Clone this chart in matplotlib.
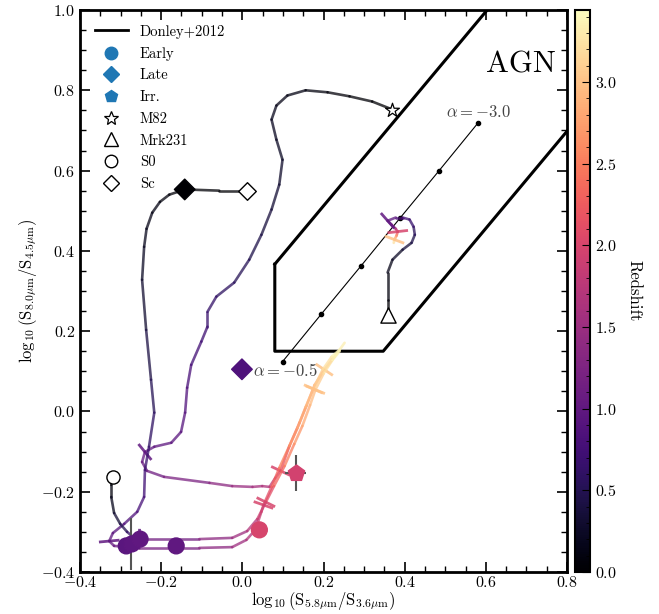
import numpy as np
import matplotlib
matplotlib.use('Agg')
import matplotlib.pyplot as plt
from matplotlib.collections import LineCollection
from matplotlib.lines import Line2D
from matplotlib import cm, colors

plt.rcParams['font.family'] = 'serif'
plt.rcParams['font.serif'] = ['cmr10', 'DejaVu Serif']
plt.rcParams['mathtext.fontset'] = 'cm'
plt.rcParams['axes.formatter.use_mathtext'] = True
plt.rcParams['axes.unicode_minus'] = True

# template tracks (x, y, redshift)
m82_x = [0.370, 0.320, 0.264, 0.210, 0.156, 0.111, 0.084, 0.072, 0.084, 0.099, 0.091, 0.072, 0.047,
         0.017, -0.020, -0.064, -0.086, -0.086, -0.101, -0.126, -0.136, -0.141, -0.151, -0.175,
         -0.217, -0.240, -0.247, -0.235, -0.193, -0.081, -0.025, 0.025, 0.049, 0.067, 0.081,
         0.094, 0.116, 0.141, 0.158, 0.178, 0.202, 0.227, 0.252]
m82_y = [0.752, 0.772, 0.785, 0.795, 0.800, 0.787, 0.762, 0.727, 0.677, 0.627, 0.565, 0.503, 0.440,
         0.378, 0.321, 0.286, 0.248, 0.211, 0.174, 0.116, 0.059, -0.003, -0.051, -0.078,
         -0.088, -0.101, -0.126, -0.148, -0.163, -0.178, -0.186, -0.188, -0.186, -0.188, -0.166,
         -0.148, -0.086, -0.028, 0.014, 0.066, 0.104, 0.136, 0.171]
m82_z = [0.0, 0.025, 0.05, 0.075, 0.10, 0.13, 0.16, 0.19, 0.22, 0.25, 0.30, 0.35, 0.42,
         0.48, 0.55, 0.60, 0.64, 0.68, 0.72, 0.78, 0.84, 0.90, 0.94, 0.96,
         0.98, 1.0, 1.04, 1.09, 1.15, 1.3, 1.42, 1.55, 1.62, 1.7, 1.85,
         2.0, 2.25, 2.5, 2.7, 2.9, 3.0, 3.2, 3.44]

sc_x = [0.012, -0.057, -0.141, -0.180, -0.203, -0.222, -0.236, -0.242, -0.247, -0.237, -0.225,
        -0.217, -0.230, -0.240, -0.242, -0.259, -0.291, -0.319, -0.328, -0.316, -0.254, -0.106,
        -0.025, 0.010, 0.032, 0.047, 0.052, 0.072, 0.091, 0.116, 0.136, 0.156, 0.175, 0.198,
        0.220, 0.240]
sc_y = [0.550, 0.550, 0.553, 0.540, 0.522, 0.495, 0.455, 0.410, 0.328, 0.203, 0.079,
        -0.003, -0.088, -0.146, -0.213, -0.250, -0.280, -0.303, -0.323, -0.335, -0.340, -0.340,
        -0.338, -0.320, -0.295, -0.250, -0.233, -0.188, -0.141, -0.086, -0.041, 0.011, 0.056, 0.104,
        0.136, 0.154]
sc_z = [0.0, 0.02, 0.05, 0.08, 0.105, 0.13, 0.165, 0.2, 0.27, 0.37, 0.48,
        0.56, 0.64, 0.7, 0.76, 0.82, 0.88, 0.95, 1.0, 1.05, 1.12, 1.3,
        1.45, 1.6, 1.75, 1.95, 2.0, 2.2, 2.4, 2.6, 2.75, 2.9, 3.0, 3.15,
        3.3, 3.44]

s0_x = [-0.319, -0.323, -0.323, -0.316, -0.301, -0.284, -0.269, -0.254, -0.106, -0.025, 0.012,
        0.037, 0.058, 0.078, 0.104, 0.128, 0.148, 0.167, 0.180, 0.200, 0.222, 0.240]
s0_y = [-0.163, -0.183, -0.213, -0.253, -0.280, -0.300, -0.313, -0.318, -0.318, -0.315, -0.298,
        -0.268, -0.226, -0.186, -0.136, -0.081, -0.036, 0.016, 0.054, 0.094, 0.128, 0.150]
s0_z = [0.0, 0.05, 0.12, 0.25, 0.4, 0.55, 0.7, 1.0, 1.3, 1.45, 1.6,
        1.8, 2.0, 2.2, 2.4, 2.6, 2.75, 2.9, 3.0, 3.15, 3.3, 3.44]

mrk_x = [0.358, 0.358, 0.358, 0.370, 0.395, 0.417, 0.425, 0.422, 0.412, 0.395, 0.378,
         0.358, 0.368, 0.378, 0.383, 0.380, 0.375, 0.373]
mrk_y = [0.240, 0.278, 0.346, 0.378, 0.403, 0.420, 0.440, 0.460, 0.478, 0.483, 0.483,
         0.475, 0.465, 0.455, 0.448, 0.438, 0.428, 0.420]
mrk_z = [0.0, 0.05, 0.12, 0.2, 0.3, 0.4, 0.5, 0.6, 0.7, 0.8, 0.9,
         1.0, 1.2, 1.5, 2.0, 2.5, 3.0, 3.44]

tick_z = [1.0, 2.0, 3.0]

# observed galaxies
early_x = [-0.286, -0.272, -0.252, -0.163, 0.042]
early_y = [-0.335, -0.330, -0.318, -0.335, -0.295]
early_z = [0.95, 0.98, 1.0, 1.0, 2.0]
late_x = [-0.142, -0.001]
late_y = [0.553, 0.105]
late_z = [0.0, 0.85]
irr_x = [0.131]
irr_y = [-0.153]
irr_z = [1.95]
err_x = [-0.274, 0.131]
err_y = [-0.330, -0.153]
err_xe = [0.031, 0.025]
err_ye = [0.064, 0.045]

# power law
alpha = [-0.5, -1.0, -1.5, -2.0, -2.5, -3.0]
pl_x = [0.099, 0.195, 0.292, 0.388, 0.485, 0.581]
pl_y = [0.124, 0.243, 0.362, 0.481, 0.600, 0.719]

zmax = 3.44
norm = colors.Normalize(vmin=0, vmax=zmax)
cmap = plt.get_cmap('magma')

fig = plt.figure(figsize=(6.59, 6.14), dpi=100)
ax = fig.add_axes([0.1214, 0.0684, 0.739, 0.9153])
cax = fig.add_axes([0.8725, 0.0684, 0.0228, 0.9153])

# Donley+2012 wedge
wx = [0.08, 0.08, (0.15 + 0.27) / 1.21, 0.8]
wy = [1.21 * 0.08 + 0.27, 0.15, 0.15, 1.21 * 0.8 - 0.27]
ax.plot(wx, wy, 'k-', lw=2.2, zorder=2)
ax.plot([0.08, (1.0 - 0.27) / 1.21], [1.21 * 0.08 + 0.27, 1.0], 'k-', lw=2.2, zorder=2)

ax.plot(pl_x, pl_y, 'k-', lw=0.8, marker='o', ms=3, zorder=3)
ax.text(0.027, 0.101, r'$\alpha = -%.1f$' % abs(alpha[0]), fontsize=12, color='#444444',
        ha='left', va='center')
ax.text(pl_x[-1], pl_y[-1] + 0.006, r'$\alpha = -%.1f$' % abs(alpha[-1]), fontsize=12,
        color='#444444', ha='center', va='bottom')
ax.text(0.686, 0.864, 'AGN', fontsize=22, ha='center', va='center')


def draw_track(tx, ty, tz):
    tx = np.array(tx); ty = np.array(ty); tz = np.array(tz)
    pts = np.column_stack([tx, ty]).reshape(-1, 1, 2)
    segs = np.concatenate([pts[:-1], pts[1:]], axis=1)
    lc = LineCollection(segs, cmap=cmap, norm=norm, lw=1.9, alpha=0.75, zorder=4,
                        capstyle='round', joinstyle='round')
    lc.set_array(0.5 * (tz[:-1] + tz[1:]))
    ax.add_collection(lc)
    # short bars across the track at z = 1, 2, 3
    for z in tick_z:
        x0 = np.interp(z, tz, tx); y0 = np.interp(z, tz, ty)
        dx = np.interp(z + 0.05, tz, tx) - np.interp(z - 0.05, tz, tx)
        dy = np.interp(z + 0.05, tz, ty) - np.interp(z - 0.05, tz, ty)
        d = np.hypot(dx, dy)
        px, py = -dy / d * 0.022, dx / d * 0.022
        ax.plot([x0 - px, x0 + px], [y0 - py, y0 + py], color=cmap(norm(z)), lw=2,
                alpha=0.85, zorder=4)


draw_track(m82_x, m82_y, m82_z)
draw_track(sc_x, sc_y, sc_z)
draw_track(s0_x, s0_y, s0_z)
draw_track(mrk_x, mrk_y, mrk_z)

# z=0 template markers
ax.scatter([m82_x[0]], [m82_y[0]], marker='*', s=110, facecolor='white', edgecolor='k', lw=0.9, zorder=6)
ax.scatter([mrk_x[0]], [mrk_y[0]], marker='^', s=120, facecolor='white', edgecolor='k', lw=1, zorder=6)
ax.scatter([s0_x[0]], [s0_y[0]], marker='o', s=90, facecolor='white', edgecolor='k', lw=1, zorder=6)
ax.scatter([sc_x[0]], [sc_y[0]], marker='D', s=80, facecolor='white', edgecolor='k', lw=1, zorder=6)

ax.errorbar(err_x, err_y, xerr=err_xe, yerr=err_ye, fmt='none', ecolor='#555555', elinewidth=1.5,
            capsize=0, zorder=5)
ax.scatter(early_x, early_y, c=early_z, cmap=cmap, norm=norm, marker='o', s=130, zorder=7)
ax.scatter(late_x, late_y, c=late_z, cmap=cmap, norm=norm, marker='D', s=110, zorder=7)
ax.scatter(irr_x, irr_y, c=irr_z, cmap=cmap, norm=norm, marker='p', s=150, zorder=7)

ax.set_xlim(-0.4, 0.8)
ax.set_ylim(-0.4, 1.0)
ax.set_xticks(np.arange(-0.4, 0.81, 0.2))
ax.set_yticks(np.arange(-0.4, 1.01, 0.2))
ax.set_xticks(np.arange(-0.4, 0.81, 0.05), minor=True)
ax.set_yticks(np.arange(-0.4, 1.01, 0.05), minor=True)
ax.tick_params(which='both', direction='in', top=True, right=True, labelsize=11.5)
ax.tick_params(which='major', length=7, width=1.2)
ax.tick_params(which='minor', length=4, width=1)
ax.tick_params(axis='x', pad=2)
for s in ax.spines.values():
    s.set_linewidth(2)
ax.set_xlabel(r'$\log_{10}\left(\mathrm{S}_{5.8\mu\mathrm{m}}/\mathrm{S}_{3.6\mu\mathrm{m}}\right)$',
              fontsize=12, labelpad=0)
ax.set_ylabel(r'$\log_{10}\left(\mathrm{S}_{8.0\mu\mathrm{m}}/\mathrm{S}_{4.5\mu\mathrm{m}}\right)$',
              fontsize=12, labelpad=1)

handles = [
    Line2D([], [], color='k', lw=2),
    Line2D([], [], ls='none', marker='o', ms=9, color='C0'),
    Line2D([], [], ls='none', marker='D', ms=8, color='C0'),
    Line2D([], [], ls='none', marker='p', ms=9, color='C0'),
    Line2D([], [], ls='none', marker='*', ms=10, mfc='white', mec='k', mew=0.9),
    Line2D([], [], ls='none', marker='^', ms=10, mfc='white', mec='k', mew=1),
    Line2D([], [], ls='none', marker='o', ms=9, mfc='white', mec='k', mew=1),
    Line2D([], [], ls='none', marker='D', ms=8, mfc='white', mec='k', mew=1),
]
labels = ['Donley+2012', 'Early', 'Late', 'Irr.', 'M82', 'Mrk231', 'S0', 'Sc']
ax.legend(handles, labels, loc='upper left', frameon=False, fontsize=10.5,
          handlelength=2.3, labelspacing=0.55, borderaxespad=0.6)

sm = cm.ScalarMappable(norm=norm, cmap=cmap)
cb = fig.colorbar(sm, cax=cax)
cb.set_ticks(np.arange(0, 3.01, 0.5))
cb.set_ticks(np.arange(0, 3.41, 0.1), minor=True)
cb.ax.tick_params(which='both', direction='in', labelsize=11.5)
cb.ax.tick_params(which='major', length=6)
cb.ax.tick_params(which='minor', length=3)
cb.outline.set_linewidth(1.5)
cb.set_label('Redshift', rotation=270, fontsize=12, labelpad=18)

fig.savefig('out.png', dpi=100)
